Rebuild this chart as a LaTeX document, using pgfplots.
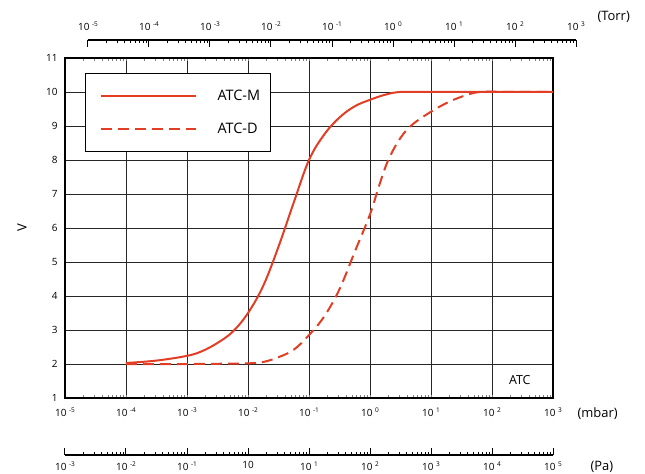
\documentclass[border=0pt]{standalone}
\usepackage{fontspec}
\setmainfont{Open Sans}
\usepackage{pgfplots}
\pgfplotsset{compat=1.18}
\definecolor{atcred}{RGB}{226,62,38}
\newcommand{\tp}[1]{10\hspace{2.5bp}\raisebox{4bp}{\fontsize{6.5}{7}\selectfont #1}}
\begin{document}
\begin{tikzpicture}
\path[use as bounding box] (0,0) rectangle (645bp,474bp);
% main axis (mbar)
\begin{axis}[
  at={(65bp,76bp)}, anchor=south west,
  scale only axis, width=488bp, height=340bp,
  xmode=log, xmin=1e-5, xmax=1e3, ymin=1, ymax=11,
  xtick={1e-5,1e-4,1e-3,1e-2,1e-1,1,1e1,1e2,1e3},
  xticklabels={\tp{-5},\tp{-4},\tp{-3},\tp{-2},\tp{-1},\tp{0},\tp{1},\tp{2},\tp{3}},
  ytick={1,2,...,11},
  minor xtick={},
  major tick length=0pt,
  grid=major,
  major grid style={black!85, line width=0.9bp},
  axis line style={black, line width=1.6bp},
  tick label style={font=\fontsize{10}{12}\selectfont},
  xticklabel style={yshift=-6bp},
  yticklabel style={xshift=-4bp},
  /pgf/number format/assume math mode=true,
  legend style={at={(0.041,0.956)}, anchor=north west, draw=black, line width=1bp,
    font=\fontsize{14.5}{16}\selectfont, inner xsep=10bp, inner ysep=15.5bp, row sep=19bp,
    nodes={inner xsep=0bp, inner ysep=1bp}},
  legend cell align=left,
  legend image code/.code={\path[draw=none] (0bp,0bp) -- (122bp,0bp); \draw[#1] (5bp,0bp) -- (100bp,0bp);},
]
\addplot[atcred, line width=2bp, smooth, tension=0.6] coordinates {
 (1e-4,2.03) (3.162e-4,2.1) (1e-3,2.24) (1.778e-3,2.38) (3.162e-3,2.62) (5.623e-3,2.95)
 (1e-2,3.5) (1.778e-2,4.3) (3.162e-2,5.45) (5.623e-2,6.75) (0.1,8.0)
 (0.1778,8.75) (0.3162,9.25) (0.5623,9.58) (1,9.77)
 (1.778,9.92) (3.162,10.0) (10,10.0) (1000,10.0)
};
\addlegendentry{ATC-M}
\addplot[atcred, line width=2bp, dash pattern=on 11bp off 6bp, smooth, tension=0.6] coordinates {
 (1e-4,2.0) (1e-3,2.0) (1e-2,2.02) (0.01778,2.06) (0.03162,2.2) (0.05623,2.42)
 (0.1,2.85) (0.1778,3.4) (0.3162,4.2) (0.5623,5.3) (1,6.4) (1.413,7.25)
 (1.995,8.0) (3.162,8.65) (5.012,9.05) (10,9.42) (17.78,9.67) (31.62,9.86) (63.1,10.0)
 (200,10.0) (1000,10.0)
};
\addlegendentry{ATC-D}
\node[font=\fontsize{12.5}{14}\selectfont] at (rel axis cs:0.932,0.053) {ATC};
\end{axis}
% top axis (Torr)
\begin{axis}[
  at={(88bp,434bp)}, anchor=north west,
  scale only axis, width=488bp, height=10bp,
  xmode=log, xmin=1e-5, xmax=1e3, ymin=0, ymax=1,
  axis x line*=top, hide y axis,
  x axis line style={-, black, line width=1.3bp},
  xtick={1e-5,1e-4,1e-3,1e-2,1e-1,1,1e1,1e2,1e3},
  xticklabels={\tp{-5},\tp{-4},\tp{-3},\tp{-2},\tp{-1},\tp{0},\tp{1},\tp{2},\tp{3}},
  minor xtick={},
  tick align=inside, major tick length=7bp,
  tick style={black, line width=1bp},
  tick label style={font=\fontsize{10}{12}\selectfont},
  xticklabel style={yshift=6bp},
]
\end{axis}
% bottom axis (Pa)
\begin{axis}[
  at={(65bp,19bp)}, anchor=south west,
  scale only axis, width=488bp, height=10bp,
  xmode=log, xmin=1e-3, xmax=1e5, ymin=0, ymax=1,
  axis x line*=bottom, hide y axis,
  x axis line style={-, black, line width=1.3bp},
  xtick={1e-3,1e-2,1e-1,1,1e1,1e2,1e3,1e4,1e5},
  xticklabels={\tp{-3},\tp{-2},\tp{-1},10,\tp{1},\tp{2},\tp{3},\tp{4},\tp{5}},
  minor xtick={},
  tick align=inside, major tick length=7bp,
  tick style={black, line width=1bp},
  tick label style={font=\fontsize{10}{12}\selectfont},
  xticklabel style={yshift=-3bp},
]
\end{axis}
\node[font=\fontsize{13}{14}\selectfont, anchor=west] at (574bp,60bp) {(mbar)};
\node[font=\fontsize{13}{14}\selectfont, anchor=west] at (594bp,457bp) {(Torr)};
\node[font=\fontsize{13}{14}\selectfont, anchor=west] at (587bp,7bp) {(Pa)};
\node[font=\fontsize{13}{14}\selectfont, rotate=90] at (22bp,246bp) {V};
\end{tikzpicture}
\end{document}
